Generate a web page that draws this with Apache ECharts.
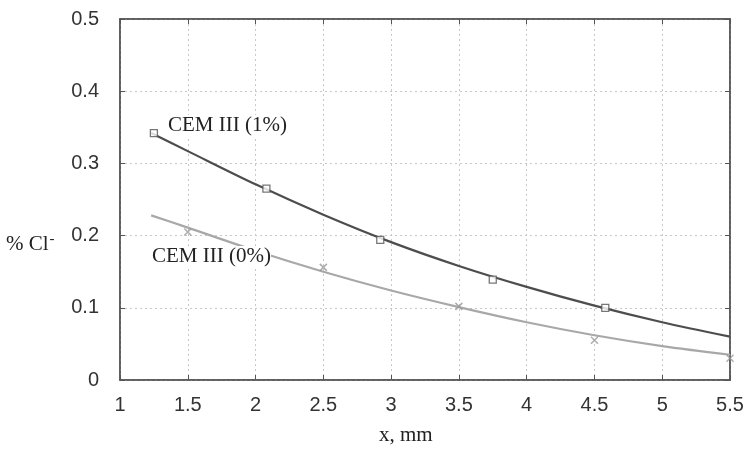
<!DOCTYPE html>
<html>
<head>
<meta charset="utf-8">
<script src="https://cdn.jsdelivr.net/npm/echarts@6/dist/echarts.min.js"></script>
<style>html,body{margin:0;padding:0;background:#fff}#c{width:749px;height:454px}</style>
</head>
<body>
<div id="c"></div>
<script>
// Data
var fit1X = [1.23, 1.5, 2.0, 2.5, 3.0, 3.5, 4.0, 4.5, 5.0, 5.5];
var fit1Y = [0.342, 0.317, 0.271, 0.229, 0.191, 0.158, 0.129, 0.103, 0.080, 0.060];
var fit0X = [1.23, 1.5, 2.0, 2.5, 3.0, 3.5, 4.0, 4.5, 5.0, 5.5];
var fit0Y = [0.228, 0.211, 0.179, 0.150, 0.124, 0.101, 0.080, 0.062, 0.047, 0.035];
var meas1X = [1.25, 2.08, 2.92, 3.75, 4.58];
var meas1Y = [0.342, 0.265, 0.194, 0.139, 0.100];
var meas0X = [1.5, 2.5, 3.5, 4.5, 5.5];
var meas0Y = [0.205, 0.156, 0.102, 0.055, 0.030];
var label1 = 'CEM III (1%)';
var label0 = 'CEM III (0%)';
var xTitle = 'x, mm';

function zip(a, b) { return a.map(function (v, i) { return [v, b[i]]; }); }

var crossPath = 'path://M0,0L10,10M10,0L0,10';
var chart = echarts.init(document.getElementById('c'));
var frameColor = '#555';
var labelStyle = { fontFamily: 'Liberation Sans, Arial, sans-serif', fontSize: 20, color: '#333' };
var serif = 'Liberation Serif, Times New Roman, serif';
var frameAxis = {
  axisLine: { show: true, onZero: false, lineStyle: { color: frameColor, width: 1.5 } },
  axisTick: { show: true, inside: true, length: 5, lineStyle: { color: frameColor } },
  axisLabel: { show: false }, splitLine: { show: false }
};

chart.setOption({
  animation: false,
  grid: { left: 120, right: 19, top: 19, bottom: 74, show: true, borderColor: frameColor, borderWidth: 1.5, backgroundColor: 'transparent' },
  xAxis: [{
    type: 'value', min: 1, max: 5.5, interval: 0.5,
    axisLine: { show: true, onZero: false, lineStyle: { color: frameColor, width: 1.5 } },
    axisTick: { show: true, inside: true, length: 5, lineStyle: { color: frameColor } },
    axisLabel: Object.assign({ margin: 15 }, labelStyle),
    splitLine: { show: true, lineStyle: { color: '#c8c8c8', type: [2, 3] } }
  }, Object.assign({ type: 'value', min: 1, max: 5.5, interval: 0.5, position: 'top' }, frameAxis)],
  yAxis: [{
    type: 'value', min: 0, max: 0.5, interval: 0.1,
    axisLine: { show: true, onZero: false, lineStyle: { color: frameColor, width: 1.5 } },
    axisTick: { show: true, inside: true, length: 5, lineStyle: { color: frameColor } },
    axisLabel: Object.assign({ margin: 21 }, labelStyle),
    splitLine: { show: true, lineStyle: { color: '#c8c8c8', type: [2, 3] } }
  }, Object.assign({ type: 'value', min: 0, max: 0.5, interval: 0.1, position: 'right' }, frameAxis)],
  series: [
    { type: 'line', data: zip(fit1X, fit1Y), smooth: 0.3, showSymbol: false,
      lineStyle: { color: '#4d4d4d', width: 2.2 }, z: 3 },
    { type: 'line', data: zip(fit0X, fit0Y), smooth: 0.3, showSymbol: false,
      lineStyle: { color: '#a8a8a8', width: 2.2 }, z: 3 },
    { type: 'scatter', data: zip(meas1X, meas1Y), symbol: 'rect', symbolSize: 7,
      itemStyle: { color: '#fff', borderColor: '#555', borderWidth: 1.3 }, z: 4 },
    { type: 'scatter', data: zip(meas0X, meas0Y), symbol: crossPath, symbolSize: 7,
      itemStyle: { color: 'none', borderColor: '#999', borderWidth: 1.5 }, z: 4 }
  ],
  graphic: [
    { type: 'text', left: 168, top: 115, z: 10,
      style: { text: label1, fontFamily: serif, fontSize: 21, fill: '#222', backgroundColor: '#fff' } },
    { type: 'text', left: 152, top: 246, z: 10,
      style: { text: label0, fontFamily: serif, fontSize: 21, fill: '#222', backgroundColor: '#fff' } },
    { type: 'text', left: 379, top: 425, z: 10,
      style: { text: xTitle, fontFamily: serif, fontSize: 21, fill: '#222' } },
    { type: 'text', left: 6, top: 232, z: 10,
      style: { text: '{a|% Cl}{b|-}', fontFamily: serif,
        rich: { a: { fontFamily: serif, fontSize: 21, fill: '#222', color: '#222' },
                b: { fontFamily: serif, fontSize: 15, fill: '#222', color: '#222', verticalAlign: 'top', padding: [0, 0, 10, 1] } } } }
  ]
});
</script>
</body>
</html>
